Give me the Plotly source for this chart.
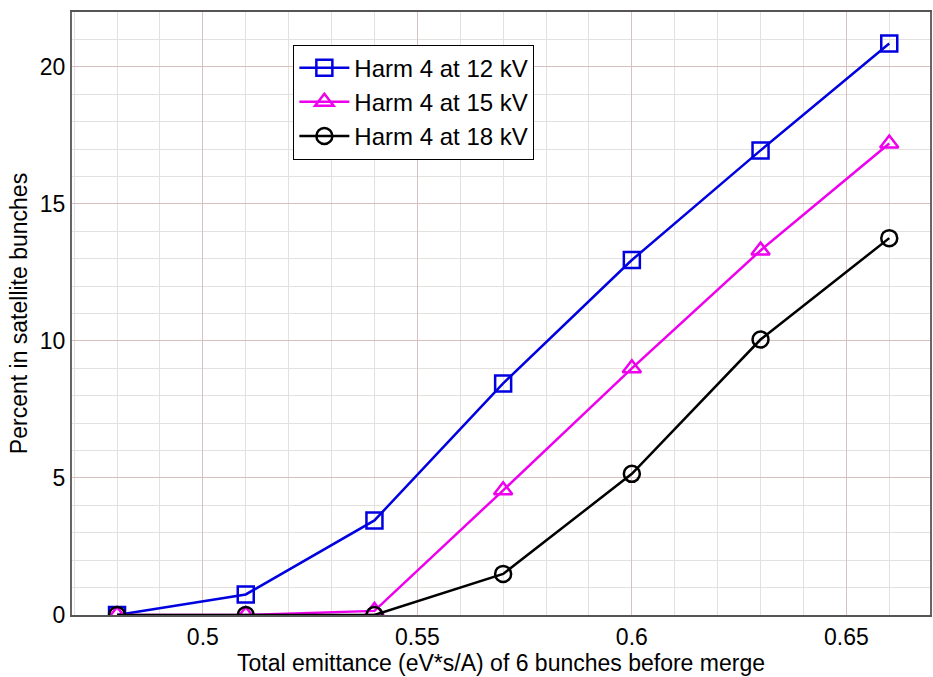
import plotly.graph_objects as go

# Emittance values (eV*s/A) of the 6 bunches before merging
emittance = [0.48, 0.51, 0.54, 0.57, 0.60, 0.63, 0.66]

# Percent of beam ending up in satellite bunches, per RF voltage
sat_12kv = [0.0, 0.75, 3.45, 8.45, 12.95, 16.95, 20.85]
sat_15kv = [0.0, 0.0, 0.15, 4.55, 9.0, 13.3, 17.2]
sat_18kv = [0.0, 0.0, 0.0, 1.5, 5.15, 10.05, 13.75]

series_names = ["Harm 4 at 12 kV", "Harm 4 at 15 kV", "Harm 4 at 18 kV"]

x_tick_vals = [0.5, 0.55, 0.6, 0.65]
x_tick_text = ["0.5", "0.55", "0.6", "0.65"]
y_tick_vals = [0, 5, 10, 15, 20]
y_tick_text = ["0", "5", "10", "15", "20"]

FONT = "Liberation Sans, Arial, sans-serif"
MAJOR_GRID = "#d6c0c0"
MINOR_GRID = "#e4e0e0"

styles = [
    dict(color="#0000e0", symbol="square-open"),
    dict(color="#ee00ee", symbol="triangle-up-open"),
    dict(color="#000000", symbol="circle-open"),
]

fig = go.Figure()
for name, ys, st in zip(series_names, [sat_12kv, sat_15kv, sat_18kv], styles):
    fig.add_trace(go.Scatter(
        x=emittance, y=ys, name=name, mode="lines+markers",
        line=dict(color=st["color"], width=2.5),
        marker=dict(symbol=st["symbol"], size=16, color=st["color"],
                    line=dict(width=2.5, color=st["color"])),
    ))

fig.update_layout(
    width=933, height=677,
    margin=dict(l=72, r=1, t=12, b=62),
    paper_bgcolor="white", plot_bgcolor="white",
    font=dict(family=FONT, size=23, color="black"),
    showlegend=True,
    legend=dict(
        x=0.258, y=0.946, xanchor="left", yanchor="top",
        bgcolor="white", bordercolor="black", borderwidth=1,
        font=dict(family=FONT, size=24, color="black"),
        itemwidth=50, tracegroupgap=0,
    ),
    xaxis=dict(
        range=[0.4695, 0.6695],
        tickvals=x_tick_vals, ticktext=x_tick_text,
        showgrid=True, gridcolor=MAJOR_GRID, gridwidth=1,
        minor=dict(dtick=0.01, tick0=0.0, showgrid=True, gridcolor=MINOR_GRID, gridwidth=1),
        showline=True, linecolor="#555555", linewidth=2, mirror=True,
        zeroline=False, ticks="",
        title=dict(text="Total emittance (eV*s/A) of 6 bunches before merge",
                   font=dict(size=23), standoff=4),
        tickfont=dict(size=23),
    ),
    yaxis=dict(
        range=[0, 22],
        tickvals=y_tick_vals, ticktext=y_tick_text,
        showgrid=True, gridcolor=MAJOR_GRID, gridwidth=1,
        minor=dict(dtick=1, tick0=0, showgrid=True, gridcolor=MINOR_GRID, gridwidth=1),
        showline=True, linecolor="#666666", linewidth=2, mirror=True,
        zeroline=False, ticks="",
        title=dict(text="Percent in satellite bunches", font=dict(size=23), standoff=6),
        tickfont=dict(size=23),
    ),
)

fig.write_html("out.html")
